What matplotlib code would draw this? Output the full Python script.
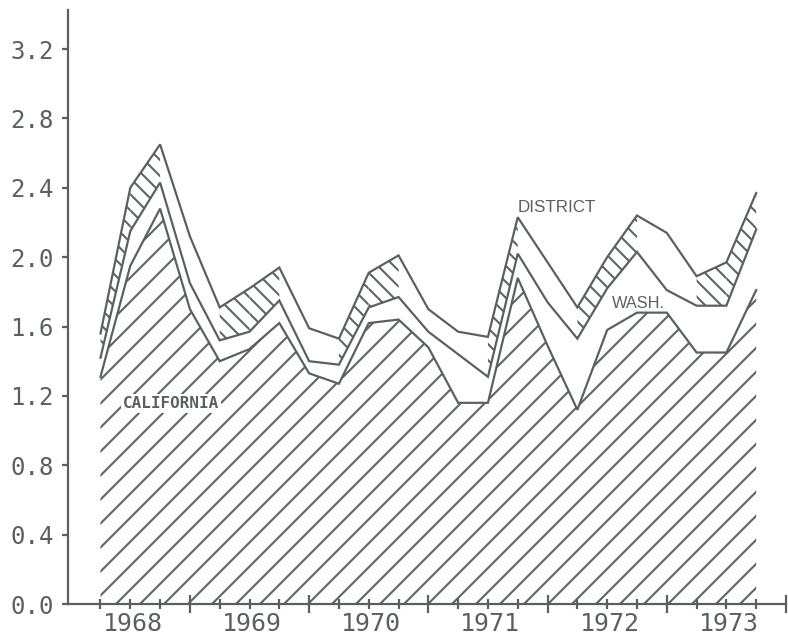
import matplotlib
matplotlib.use("Agg")
import matplotlib.pyplot as plt
import numpy as np

# Quarterly observations (second quarter 1968 .. fourth quarter 1973)
quarters = list(range(23))
district = [1.56, 2.40, 2.65, 2.12, 1.71, 1.82, 1.94, 1.59, 1.53, 1.91, 2.01, 1.70,
            1.57, 1.54, 2.23, 1.97, 1.71, 2.00, 2.24, 2.14, 1.89, 1.97, 2.37]
washington = [1.42, 2.15, 2.43, 1.85, 1.52, 1.57, 1.75, 1.40, 1.38, 1.71, 1.77, 1.57,
              1.44, 1.31, 2.02, 1.74, 1.53, 1.82, 2.03, 1.81, 1.72, 1.72, 2.16]
california = [1.31, 1.95, 2.28, 1.70, 1.40, 1.47, 1.62, 1.33, 1.27, 1.62, 1.64, 1.48,
              1.16, 1.16, 1.88, 1.49, 1.12, 1.58, 1.68, 1.68, 1.45, 1.45, 1.81]

year_labels = ["1968", "1969", "1970", "1971", "1972", "1973"]
year_label_pos = [1, 5, 9, 13, 17, 21]
year_break_pos = [3, 7, 11, 15, 19, 23]
y_ticks = [0.0, 0.4, 0.8, 1.2, 1.6, 2.0, 2.4, 2.8, 3.2]

INK = "#5b5f5f"
DPI = 144
plt.rcParams["hatch.linewidth"] = 1.0
plt.rcParams["hatch.color"] = INK

fig = plt.figure(figsize=(788 / DPI, 639 / DPI), dpi=DPI)
ax = fig.add_axes([68 / 788, 35 / 639, (786 - 68) / 788, (604 - 10) / 639])

x = np.array(quarters, dtype=float)
cal = np.array(california)
wash = np.array(washington)
dist = np.array(district)

# California region: hatched down to the axis
ax.fill_between(x, 0, cal, facecolor="white", edgecolor=INK, hatch="//", linewidth=0)
# District band: hatched where the District curve rises (front face of the ribbon)
for i in range(len(x) - 1):
    if dist[i + 1] > dist[i]:
        ax.fill_between(x[i:i + 2], wash[i:i + 2], dist[i:i + 2], facecolor="white",
                        edgecolor=INK, hatch="\\\\\\", linewidth=0)
for s in (cal, wash, dist):
    ax.plot(x, s, color=INK, lw=1.1, solid_joinstyle="miter")

ax.set_xlim(-1.09, 23.0)
ax.set_ylim(0, 3.425)

for side in ("top", "right"):
    ax.spines[side].set_visible(False)
for side in ("left", "bottom"):
    ax.spines[side].set_color(INK)
    ax.spines[side].set_linewidth(1.1)

mono = "DejaVu Sans Mono"
ax.set_yticks(y_ticks)
ax.set_yticklabels([f"{v:.1f}" for v in y_ticks], fontfamily=mono, fontsize=12, color=INK)
ax.tick_params(axis="y", direction="out", length=3, width=1.1, color=INK, pad=4)

ax.set_xticks(year_break_pos)
ax.set_xticklabels([])
ax.set_xticks(quarters, minor=True)
ax.tick_params(axis="x", which="major", direction="inout", length=9, width=1.1, color=INK)
ax.tick_params(axis="x", which="minor", direction="inout", length=5, width=1.1, color=INK)
for lab, p in zip(year_labels, year_label_pos):
    ax.text(p + 0.08, -0.045, lab, ha="center", va="top", fontfamily=mono, fontsize=12.5,
            color=INK)

ax.text(14.0, 2.245, "DISTRICT", fontfamily="Liberation Sans", fontsize=8.5, color=INK,
        ha="left", va="bottom")
ax.text(17.16, 1.69, "WASH.", fontfamily="Liberation Sans", fontsize=8.2, color=INK,
        ha="left", va="bottom")
ax.text(0.75, 1.113, "CALIFORNIA", fontfamily=mono, fontsize=8, color=INK,
        ha="left", va="bottom", fontweight="bold",
        bbox=dict(facecolor="white", edgecolor="none", pad=1))

fig.savefig("out.png", dpi=DPI)
